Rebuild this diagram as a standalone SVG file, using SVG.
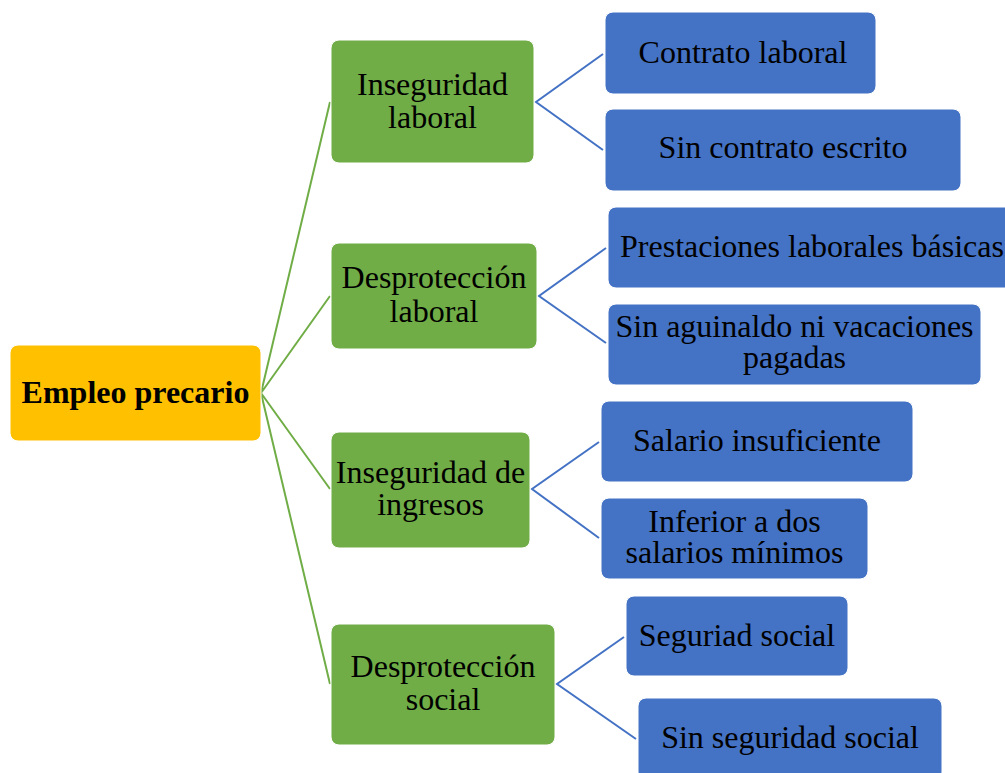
<svg xmlns="http://www.w3.org/2000/svg" width="1005" height="773" viewBox="0 0 1005 773">
<style>
text{font-family:"Liberation Serif","Times New Roman",serif;font-size:32px;fill:#000;text-anchor:middle}
.root rect{fill:#FFC000;stroke:#fff;stroke-width:1}
.mid rect{fill:#70AD47;stroke:#fff;stroke-width:1}
.leaf rect{fill:#4472C4;stroke:#fff;stroke-width:1}
.g{stroke:#70AD47;stroke-width:2;fill:none}
.b{stroke:#4472C4;stroke-width:2;fill:none}
</style>
<rect width="1005" height="773" fill="#fff"/>
<g id="connectors">
<path class="g" d="M330,102 L261,393 L330,296 M261,393 L330,489 M261,393 L330,684"/>
<path class="b" d="M603,54 L536,102 L603,150"/>
<path class="b" d="M606,248 L539,296 L606,343"/>
<path class="b" d="M599,442 L532,489 L599,538"/>
<path class="b" d="M624,637 L557,684 L636,739"/>
</g>
<g id="root" class="root">
<rect x="10" y="345" width="251" height="96" rx="8"/>
<text x="135.5" y="403" font-weight="bold">Empleo precario</text>
</g>
<g id="n1" class="mid">
<rect x="331" y="40" width="203" height="123" rx="8"/>
<text x="432.5" y="95">Inseguridad</text>
<text x="432.5" y="128">laboral</text>
</g>
<g id="n2" class="mid">
<rect x="331" y="243" width="206" height="106" rx="8"/>
<text x="434" y="288">Desprotección</text>
<text x="434" y="322">laboral</text>
</g>
<g id="n3" class="mid">
<rect x="331" y="432" width="199" height="116" rx="8"/>
<text x="430.5" y="483">Inseguridad de</text>
<text x="430.5" y="515">ingresos</text>
</g>
<g id="n4" class="mid">
<rect x="331" y="624" width="224" height="121" rx="8"/>
<text x="443" y="677">Desprotección</text>
<text x="443" y="710">social</text>
</g>
<g id="l1" class="leaf">
<rect x="605" y="12" width="271" height="82" rx="8"/>
<text x="743" y="63">Contrato laboral</text>
</g>
<g id="l2" class="leaf">
<rect x="605" y="109" width="356" height="82" rx="8"/>
<text x="783" y="158">Sin contrato escrito</text>
</g>
<g id="l3" class="leaf">
<rect x="608" y="207" width="408" height="81" rx="8"/>
<text x="812" y="257">Prestaciones laborales básicas</text>
</g>
<g id="l4" class="leaf">
<rect x="608" y="304" width="373" height="81" rx="8"/>
<text x="794.5" y="337">Sin aguinaldo ni vacaciones</text>
<text x="794.5" y="368">pagadas</text>
</g>
<g id="l5" class="leaf">
<rect x="601" y="401" width="312" height="81" rx="8"/>
<text x="757" y="451">Salario insuficiente</text>
</g>
<g id="l6" class="leaf">
<rect x="601" y="498" width="267" height="81" rx="8"/>
<text x="734.5" y="532">Inferior a dos</text>
<text x="734.5" y="563">salarios mínimos</text>
</g>
<g id="l7" class="leaf">
<rect x="626" y="596" width="222" height="80" rx="8"/>
<text x="737" y="646">Seguriad social</text>
</g>
<g id="l8" class="leaf">
<rect x="638" y="698" width="304" height="82" rx="8"/>
<text x="790" y="748">Sin seguridad social</text>
</g>
</svg>
